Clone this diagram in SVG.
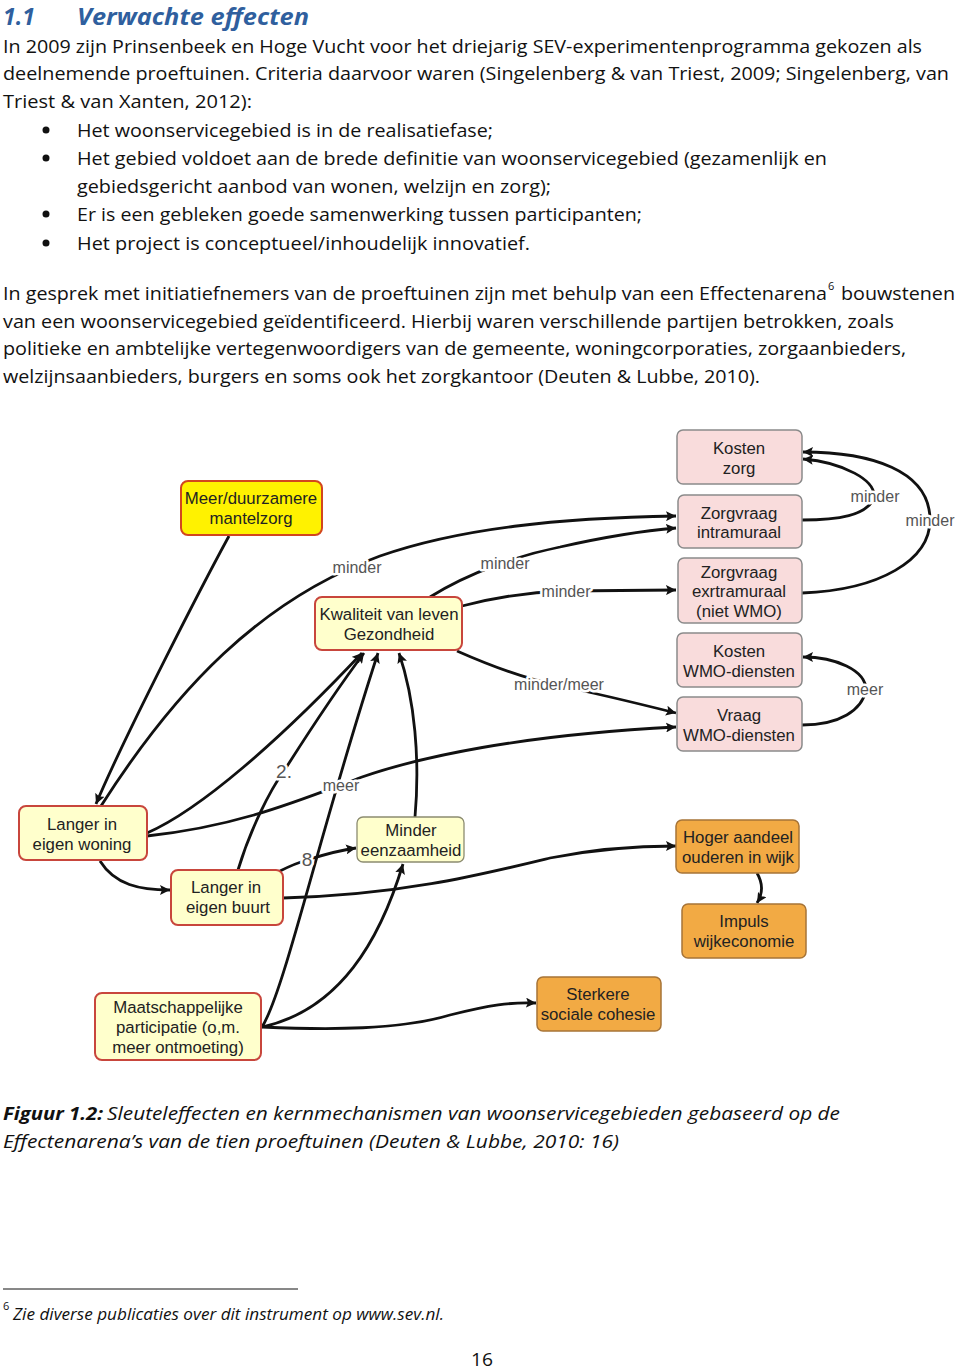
<svg xmlns="http://www.w3.org/2000/svg" width="960" height="1369" viewBox="0 0 960 1369">
<style>
.body{font-family:"Open Sans","Liberation Sans",sans-serif;font-size:18.5px;fill:#111}
.it{font-style:italic}
.h{font-family:"Open Sans","Liberation Sans",sans-serif;font-size:23px;font-weight:bold;font-style:italic;fill:#2f5f9e}
.nt{font-family:"Liberation Sans",Arial,sans-serif;font-size:16.8px;fill:#222;text-anchor:middle}
.lb{font-family:"Liberation Sans",Arial,sans-serif;font-size:16px;fill:#555;text-anchor:middle;stroke:#fff;stroke-width:5px;paint-order:stroke;stroke-linejoin:round}
.lbn{font-size:19px}
.pink{fill:#f9dcdc;stroke:#8a8a8a;stroke-width:1.5}
.yel{fill:#ffffcc;stroke:#c8463c;stroke-width:2}
.yel2{fill:#ffffcc;stroke:#8c8c70;stroke-width:1.3}
.man{fill:#fff200;stroke:#d2461e;stroke-width:2}
.ora{fill:#f2aa44;stroke:#a77437;stroke-width:1.5}
.c path{fill:none;stroke:#111;stroke-width:2.8;marker-end:url(#ah)}
</style>
<defs>
<marker id="ah" markerUnits="userSpaceOnUse" markerWidth="12" markerHeight="10" refX="10" refY="5" orient="auto">
<path d="M0,0 L10,5 L0,10 L2,5 Z" fill="#111"/>
</marker>
</defs>
<rect width="960" height="1369" fill="#fff"/>

<!-- Text -->
<text class="h" x="3" y="25">1.1</text>
<text class="h" x="77" y="25" textLength="232" lengthAdjust="spacingAndGlyphs">Verwachte effecten</text>
<text class="body" x="3" y="53" textLength="919" lengthAdjust="spacingAndGlyphs">In 2009 zijn Prinsenbeek en Hoge Vucht voor het driejarig SEV-experimentenprogramma gekozen als</text>
<text class="body" x="3" y="80" textLength="946" lengthAdjust="spacingAndGlyphs">deelnemende proeftuinen. Criteria daarvoor waren (Singelenberg &amp; van Triest, 2009; Singelenberg, van</text>
<text class="body" x="3" y="108" textLength="249" lengthAdjust="spacingAndGlyphs">Triest &amp; van Xanten, 2012):</text>
<g fill="#111"><circle cx="46" cy="130" r="3.5"/><circle cx="46" cy="158" r="3.5"/><circle cx="46" cy="214" r="3.5"/><circle cx="46" cy="243" r="3.5"/></g>
<text class="body" x="77" y="137" textLength="416" lengthAdjust="spacingAndGlyphs">Het woonservicegebied is in de realisatiefase;</text>
<text class="body" x="77" y="165" textLength="750" lengthAdjust="spacingAndGlyphs">Het gebied voldoet aan de brede definitie van woonservicegebied (gezamenlijk en</text>
<text class="body" x="77" y="193" textLength="474" lengthAdjust="spacingAndGlyphs">gebiedsgericht aanbod van wonen, welzijn en zorg);</text>
<text class="body" x="77" y="221" textLength="565" lengthAdjust="spacingAndGlyphs">Er is een gebleken goede samenwerking tussen participanten;</text>
<text class="body" x="77" y="250" textLength="453" lengthAdjust="spacingAndGlyphs">Het project is conceptueel/inhoudelijk innovatief.</text>
<text class="body" x="3" y="300" textLength="824" lengthAdjust="spacingAndGlyphs">In gesprek met initiatiefnemers van de proeftuinen zijn met behulp van een Effectenarena</text>
<text class="body" x="828" y="290" style="font-size:11px">6</text>
<text class="body" x="841" y="300" textLength="114" lengthAdjust="spacingAndGlyphs">bouwstenen</text>
<text class="body" x="3" y="328" textLength="891" lengthAdjust="spacingAndGlyphs">van een woonservicegebied geïdentificeerd. Hierbij waren verschillende partijen betrokken, zoals</text>
<text class="body" x="3" y="355" textLength="903" lengthAdjust="spacingAndGlyphs">politieke en ambtelijke vertegenwoordigers van de gemeente, woningcorporaties, zorgaanbieders,</text>
<text class="body" x="3" y="383" textLength="757" lengthAdjust="spacingAndGlyphs">welzijnsaanbieders, burgers en soms ook het zorgkantoor (Deuten &amp; Lubbe, 2010).</text>

<!-- Connectors -->
<g class="c" id="connectors">
<path d="M229,536 C205,580 125,735 96,804"/>
<path d="M101,806 C175,690 260,600 380,556 C460,528 560,518 676,516"/>
<path d="M430,597 C470,572 520,555 560,547 C600,538 640,531 676,528"/>
<path d="M462,606 C500,596 530,592 565,591 L676,590"/>
<path d="M457,651 C500,670 530,680 560,686 C600,694 640,704 676,713"/>
<path d="M147,836 C240,826 300,800 362,777 C420,757 520,735 676,727"/>
<path d="M100,861 C115,885 140,890 170,890"/>
<path d="M280,871 C290,866 300,862 307,860 C320,856 335,851 356,848"/>
<path d="M238,870 C250,830 270,790 284,771 C310,730 340,685 364,653"/>
<path d="M147,833 C200,810 280,740 362,653"/>
<path d="M262,1027 C285,990 320,830 378,653"/>
<path d="M262,1027 C340,1010 380,940 403,864"/>
<path d="M262,1027 C330,1030 400,1030 450,1015 C490,1005 510,1002 536,1003"/>
<path d="M415,817 C420,760 415,700 399,653"/>
<path d="M283,898 C400,895 480,875 550,858 C600,848 640,846 676,846"/>
<path d="M757,873 C764,885 762,895 757,903"/>
<path d="M802,520 C840,520 865,515 873,500 C880,480 840,462 803,459"/>
<path d="M802,593 C880,590 930,560 930,520 C930,470 870,452 803,452"/>
<path d="M802,725 C840,725 862,710 866,690 C866,670 835,657 803,657"/>
</g>

<!-- Labels -->
<g id="labels">
<text class="lb" x="357" y="573">minder</text>
<text class="lb" x="505" y="569">minder</text>
<text class="lb" x="566" y="597">minder</text>
<text class="lb" x="559" y="690">minder/meer</text>
<text class="lb" x="341" y="791">meer</text>
<text class="lb lbn" x="284" y="778">2.</text>
<text class="lb lbn" x="307" y="866">8</text>
<text class="lb" x="875" y="502">minder</text>
<text class="lb" x="930" y="526">minder</text>
<text class="lb" x="865" y="695">meer</text>
</g>

<!-- Nodes -->
<g id="kosten-zorg"><rect class="pink" x="677" y="430" width="125" height="54" rx="6"/><text class="nt" x="739" y="454">Kosten</text><text class="nt" x="739" y="474">zorg</text></g>
<g id="zorgvraag-intramuraal"><rect class="pink" x="678" y="495" width="124" height="53" rx="6"/><text class="nt" x="739" y="519">Zorgvraag</text><text class="nt" x="739" y="538">intramuraal</text></g>
<g id="zorgvraag-extramuraal"><rect class="pink" x="678" y="558" width="124" height="65" rx="6"/><text class="nt" x="739" y="578">Zorgvraag</text><text class="nt" x="739" y="597">exrtramuraal</text><text class="nt" x="739" y="617">(niet WMO)</text></g>
<g id="kosten-wmo"><rect class="pink" x="677" y="633" width="125" height="54" rx="6"/><text class="nt" x="739" y="657">Kosten</text><text class="nt" x="739" y="677">WMO-diensten</text></g>
<g id="vraag-wmo"><rect class="pink" x="677" y="697" width="125" height="54" rx="6"/><text class="nt" x="739" y="721">Vraag</text><text class="nt" x="739" y="741">WMO-diensten</text></g>
<g id="mantelzorg"><rect class="man" x="181" y="481" width="141" height="54" rx="7"/><text class="nt" x="251" y="504">Meer/duurzamere</text><text class="nt" x="251" y="524">mantelzorg</text></g>
<g id="kwaliteit"><rect class="yel" x="315" y="597" width="147" height="53" rx="7"/><text class="nt" x="389" y="620">Kwaliteit van leven</text><text class="nt" x="389" y="640">Gezondheid</text></g>
<g id="langer-woning"><rect class="yel" x="19" y="806" width="128" height="54" rx="7"/><text class="nt" x="82" y="830">Langer in</text><text class="nt" x="82" y="850">eigen woning</text></g>
<g id="langer-buurt"><rect class="yel" x="171" y="870" width="112" height="55" rx="7"/><text class="nt" x="226" y="893">Langer in</text><text class="nt" x="228" y="913">eigen buurt</text></g>
<g id="eenzaamheid"><rect class="yel2" x="357" y="817" width="107" height="45" rx="6"/><text class="nt" x="411" y="836">Minder</text><text class="nt" x="411" y="856">eenzaamheid</text></g>
<g id="hoger-aandeel"><rect class="ora" x="676" y="820" width="123" height="53" rx="6"/><text class="nt" x="738" y="843">Hoger aandeel</text><text class="nt" x="738" y="863">ouderen in wijk</text></g>
<g id="impuls"><rect class="ora" x="682" y="904" width="124" height="54" rx="6"/><text class="nt" x="744" y="927">Impuls</text><text class="nt" x="744" y="947">wijkeconomie</text></g>
<g id="sterkere"><rect class="ora" x="537" y="977" width="124" height="54" rx="6"/><text class="nt" x="598" y="1000">Sterkere</text><text class="nt" x="598" y="1020">sociale cohesie</text></g>
<g id="participatie"><rect class="yel" x="95" y="993" width="166" height="67" rx="7"/><text class="nt" x="178" y="1013">Maatschappelijke</text><text class="nt" x="178" y="1033">participatie (o,m.</text><text class="nt" x="178" y="1053">meer ontmoeting)</text></g>

<!-- Caption & footer -->
<text class="body it" x="3" y="1120"><tspan font-weight="bold" textLength="100" lengthAdjust="spacingAndGlyphs">Figuur 1.2:</tspan></text>
<text class="body it" x="107" y="1120" textLength="733" lengthAdjust="spacingAndGlyphs">Sleuteleffecten en kernmechanismen van woonservicegebieden gebaseerd op de</text>
<text class="body it" x="3" y="1148" textLength="616" lengthAdjust="spacingAndGlyphs">Effectenarena’s van de tien proeftuinen (Deuten &amp; Lubbe, 2010: 16)</text>
<line x1="3" y1="1289" x2="298" y2="1289" stroke="#111" stroke-width="1"/>
<text class="body" x="3" y="1310" style="font-size:11px">6</text>
<text class="body it" x="13" y="1320" style="font-size:15.5px" textLength="431" lengthAdjust="spacingAndGlyphs">Zie diverse publicaties over dit instrument op www.sev.nl.</text>
<text class="body" x="471" y="1366" textLength="22" lengthAdjust="spacingAndGlyphs">16</text>
</svg>
